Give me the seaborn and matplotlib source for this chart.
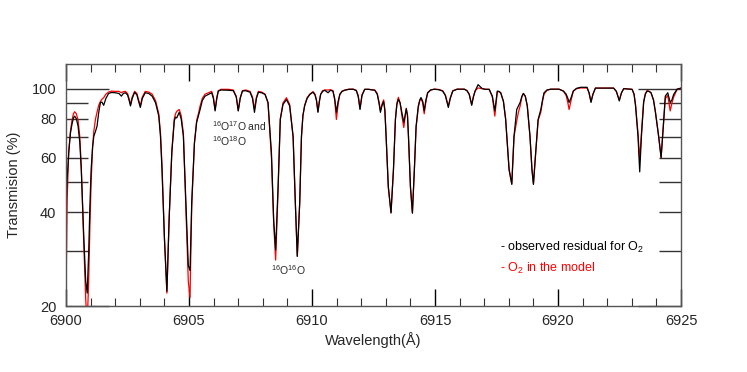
import matplotlib
matplotlib.use('Agg')
import seaborn as sns
import matplotlib.pyplot as plt
from matplotlib.ticker import FixedLocator, FuncFormatter, MultipleLocator
from pandas import DataFrame

# values (wavelength in A, transmission in %)
wavelength = [
    6900.00, 6900.05, 6900.11, 6900.18, 6900.24, 6900.30, 6900.35, 6900.42, 6900.49, 6900.56,
    6900.62, 6900.72, 6900.80, 6900.86, 6900.92, 6900.97, 6901.02, 6901.08, 6901.13, 6901.20,
    6901.26, 6901.33, 6901.40, 6901.46, 6901.53, 6901.62, 6901.73, 6901.85, 6902.00, 6902.15,
    6902.25, 6902.33, 6902.41, 6902.50, 6902.56, 6902.62, 6902.69, 6902.79, 6902.88, 6902.95,
    6903.02, 6903.10, 6903.22, 6903.36, 6903.50, 6903.64, 6903.77, 6903.84, 6903.90, 6904.00,
    6904.10, 6904.19, 6904.30, 6904.40, 6904.45, 6904.50, 6904.60, 6904.68, 6904.77, 6904.87,
    6904.97, 6905.04, 6905.11, 6905.22, 6905.31, 6905.38, 6905.45, 6905.54, 6905.65, 6905.79,
    6905.92, 6905.99, 6906.06, 6906.13, 6906.19, 6906.30, 6906.60, 6906.80, 6906.92, 6907.00,
    6907.08, 6907.17, 6907.30, 6907.48, 6907.58, 6907.66, 6907.74, 6907.82, 6907.95, 6908.09,
    6908.21, 6908.35, 6908.44, 6908.52, 6908.62, 6908.71, 6908.82, 6908.96, 6909.09, 6909.23,
    6909.32, 6909.40, 6909.50, 6909.57, 6909.63, 6909.70, 6909.80, 6909.91, 6910.04, 6910.12,
    6910.18, 6910.24, 6910.30, 6910.35, 6910.43, 6910.52, 6910.65, 6910.75, 6910.85, 6910.92,
    6910.99, 6911.06, 6911.13, 6911.22, 6911.33, 6911.50, 6911.67, 6911.80, 6911.88, 6911.95,
    6912.03, 6912.14, 6912.30, 6912.45, 6912.55, 6912.65, 6912.72, 6912.78, 6912.84, 6912.91,
    6912.96, 6913.01, 6913.10, 6913.21, 6913.31, 6913.39, 6913.45, 6913.51, 6913.58, 6913.65,
    6913.73, 6913.83, 6913.88, 6913.92, 6914.00, 6914.08, 6914.16, 6914.23, 6914.32, 6914.38,
    6914.43, 6914.50, 6914.56, 6914.63, 6914.70, 6914.82, 6914.97, 6915.15, 6915.31, 6915.42,
    6915.48, 6915.54, 6915.62, 6915.72, 6915.90, 6916.19, 6916.30, 6916.39, 6916.49, 6916.56,
    6916.63, 6916.75, 6916.92, 6917.05, 6917.20, 6917.33, 6917.43, 6917.53, 6917.60, 6917.67,
    6917.78, 6917.87, 6918.01, 6918.12, 6918.21, 6918.32, 6918.39, 6918.46, 6918.53, 6918.59,
    6918.67, 6918.75, 6918.86, 6918.94, 6919.00, 6919.09, 6919.19, 6919.30, 6919.37, 6919.43,
    6919.55, 6919.70, 6920.04, 6920.22, 6920.33, 6920.40, 6920.45, 6920.52, 6920.62, 6920.75,
    6920.92, 6921.18, 6921.26, 6921.34, 6921.42, 6921.52, 6922.26, 6922.37, 6922.49, 6922.58,
    6922.67, 6923.01, 6923.09, 6923.15, 6923.25, 6923.32, 6923.39, 6923.48, 6923.55, 6923.62,
    6923.70, 6923.78, 6923.88, 6923.96, 6924.09, 6924.19, 6924.27, 6924.36, 6924.46, 6924.56,
    6924.63, 6924.70, 6924.84, 6925.00,
]
observed = [
    40.0, 52.0, 62.2, 72.0, 76.7, 80.5, 81.6, 80.0, 75.7, 67.0,
    54.9, 33.5, 24.0, 22.0, 29.6, 42.0, 54.9, 65.0, 70.3, 73.0,
    75.7, 84.0, 90.3, 90.5, 88.4, 93.0, 96.5, 97.2, 97.0, 96.5,
    94.6, 96.5, 97.0, 95.5, 92.0, 88.0, 93.0, 97.4, 95.5, 91.0,
    87.0, 93.0, 97.0, 96.5, 94.6, 90.0, 81.6, 70.0, 54.9, 33.0,
    22.3, 37.9, 62.2, 78.7, 81.0, 80.5, 83.9, 80.0, 70.3, 43.3,
    27.0, 26.0, 43.3, 66.9, 77.9, 81.6, 85.7, 91.6, 94.6, 95.8,
    97.0, 93.0, 84.8, 93.0, 98.2, 99.0, 98.8, 98.5, 94.0, 84.8,
    93.0, 98.2, 98.5, 97.4, 93.0, 83.9, 93.0, 97.4, 97.0, 95.8,
    90.3, 62.2, 37.9, 30.3, 48.6, 79.6, 89.0, 92.2, 88.0, 70.3,
    43.3, 28.9, 43.3, 70.3, 82.0, 88.0, 93.0, 95.8, 97.4, 95.5,
    91.6, 83.9, 91.0, 95.8, 98.0, 98.8, 97.0, 98.8, 98.2, 93.0,
    83.9, 91.0, 95.8, 98.0, 98.8, 99.5, 99.6, 98.5, 94.0, 85.7,
    95.0, 99.5, 99.5, 99.0, 98.8, 96.0, 90.0, 83.9, 88.0, 91.0,
    85.0, 70.3, 48.6, 39.8, 54.9, 79.6, 89.0, 92.4, 90.0, 83.9,
    77.9, 86.1, 82.0, 70.3, 48.6, 39.8, 54.9, 75.7, 88.0, 92.0,
    93.6, 91.0, 84.8, 92.0, 97.0, 99.0, 99.6, 99.2, 98.2, 95.0,
    91.0, 87.0, 93.0, 98.2, 99.6, 99.6, 98.5, 95.8, 88.4, 94.0,
    98.2, 103.0, 100.0, 99.5, 99.5, 94.6, 84.8, 98.2, 98.0, 97.0,
    91.0, 79.6, 54.9, 49.2, 70.3, 85.7, 88.0, 90.3, 94.5, 96.5,
    94.5, 88.0, 70.3, 54.9, 49.2, 62.2, 79.6, 85.7, 92.0, 97.0,
    99.0, 99.6, 99.6, 98.2, 96.0, 93.0, 90.3, 93.0, 98.2, 100.2,
    101.0, 101.0, 97.0, 90.3, 96.0, 100.4, 100.4, 98.0, 91.3, 97.0,
    100.0, 99.5, 96.0, 88.0, 70.3, 54.0, 70.3, 90.3, 96.0, 98.2,
    98.0, 97.0, 92.0, 83.9, 70.3, 60.0, 73.9, 94.6, 97.0, 90.3,
    92.0, 95.8, 99.6, 100.4,
]
model = [
    22.0, 45.0, 63.0, 73.0, 79.0, 83.0, 84.3, 83.0, 79.0, 70.0,
    56.0, 32.0, 21.0, 17.5, 24.0, 36.0, 50.0, 65.0, 73.0, 80.0,
    84.0, 88.5, 91.0, 92.5, 93.5, 96.0, 97.5, 98.2, 98.0, 98.0,
    97.0, 97.8, 98.0, 96.5, 93.0, 89.0, 94.0, 98.0, 96.5, 92.0,
    88.0, 94.0, 98.0, 97.5, 96.0, 91.5, 83.0, 72.0, 57.0, 33.0,
    22.0, 38.0, 63.0, 80.0, 83.0, 84.5, 85.7, 82.0, 72.0, 42.0,
    24.0, 21.3, 42.0, 67.0, 79.0, 83.0, 88.0, 93.0, 96.0, 97.0,
    98.0, 94.0, 85.5, 94.0, 98.5, 99.5, 99.5, 99.0, 94.5, 85.0,
    93.5, 98.5, 99.0, 98.0, 94.0, 86.0, 94.0, 98.0, 97.5, 96.0,
    90.0, 60.0, 37.0, 28.1, 47.0, 80.0, 90.0, 93.5, 89.0, 70.0,
    43.0, 28.9, 43.0, 70.0, 82.0, 88.5, 93.5, 96.0, 97.8, 96.0,
    92.0, 84.5, 91.5, 96.0, 98.5, 99.0, 99.0, 99.2, 98.5, 92.0,
    79.6, 89.0, 96.0, 98.2, 99.0, 99.6, 99.6, 98.8, 95.0, 86.5,
    95.5, 99.5, 99.5, 99.2, 99.0, 96.5, 91.0, 85.0, 89.0, 92.0,
    86.0, 71.0, 48.0, 40.0, 55.0, 80.0, 90.0, 93.8, 90.0, 82.0,
    75.0, 86.5, 82.0, 70.0, 48.0, 39.8, 55.0, 75.0, 87.0, 91.5,
    93.0, 90.0, 83.0, 91.0, 97.0, 99.0, 99.6, 99.4, 98.5, 95.5,
    91.5, 88.0, 93.5, 98.5, 99.6, 99.6, 98.5, 96.0, 89.0, 94.5,
    98.5, 100.5, 100.0, 99.5, 99.5, 94.0, 81.6, 97.5, 97.8, 97.0,
    91.0, 80.0, 55.0, 49.5, 70.0, 78.7, 84.0, 88.0, 94.0, 96.5,
    94.5, 88.0, 70.0, 55.0, 49.5, 62.0, 79.0, 84.0, 91.0, 96.0,
    98.8, 99.6, 99.6, 98.2, 95.0, 90.0, 85.7, 91.0, 98.2, 100.0,
    100.5, 100.5, 97.0, 91.0, 96.0, 100.4, 100.4, 98.0, 92.0, 97.0,
    100.0, 99.5, 96.0, 89.0, 72.0, 59.0, 72.0, 91.0, 96.5, 98.5,
    98.0, 97.0, 92.0, 84.0, 70.0, 60.0, 74.0, 93.0, 95.0, 84.8,
    90.0, 94.0, 99.5, 100.4,
]
ytick_values = [20, 40, 60, 80, 100]

data = DataFrame({'wavelength': wavelength, 'observed': observed, 'model': model})

sns.set_style("white")
plt.rcParams['font.family'] = ['Liberation Sans', 'DejaVu Sans']
plt.rcParams['mathtext.fontset'] = 'custom'
plt.rcParams['mathtext.rm'] = 'Liberation Sans'
plt.rcParams['mathtext.it'] = 'Liberation Sans'
plt.rcParams['mathtext.default'] = 'regular'

fig = plt.figure(figsize=(7.47, 3.72), dpi=100)
ax = fig.add_axes([0.0884, 0.1774, 0.8233, 0.6505])

# model first, observed on top
sns.lineplot(x='wavelength', y='model', data=data, color='#ff0000',
             lw=0.9, estimator=None, sort=False, ax=ax)
sns.lineplot(x='wavelength', y='observed', data=data, color='black',
             lw=0.9, estimator=None, sort=False, ax=ax)

ax.set_yscale('log')
ax.set_xlim(6900, 6925)
ax.set_ylim(20, 120)

# x ticks: major every 5, minor every 1, inward on both sides
ax.xaxis.set_major_locator(MultipleLocator(5))
ax.xaxis.set_minor_locator(MultipleLocator(1))
ax.xaxis.set_major_formatter(FuncFormatter(lambda v, p: '%d' % v))

# y ticks: long ones at 20 and 100, short ones in between
ax.yaxis.set_major_locator(FixedLocator([20, 100]))
ax.yaxis.set_minor_locator(FixedLocator([30, 40, 50, 60, 70, 80, 90]))
ax.yaxis.set_major_formatter(FuncFormatter(lambda v, p: '%d' % v))
ax.yaxis.set_minor_formatter(
    FuncFormatter(lambda v, p: '%d' % v if int(round(v)) in ytick_values else ''))

ax.tick_params(axis='x', which='major', direction='in', length=12, width=1,
               top=True, bottom=True, labelsize=10.5, pad=6, color='black')
ax.tick_params(axis='x', which='minor', direction='in', length=6, width=0.8,
               top=True, bottom=True, color='#333333')
ax.tick_params(axis='y', which='major', direction='in', length=31, width=1,
               left=True, right=True, labelsize=10.5, pad=7, color='#333333')
ax.tick_params(axis='y', which='minor', direction='in', length=16, width=1,
               left=True, right=True, labelsize=10.5, pad=7, color='#333333')

for side in ax.spines.values():
    side.set_color('#555555')
    side.set_linewidth(1.0)

ax.set_xlabel('Wavelength(Å)', fontsize=10.5, labelpad=3)
ax.set_ylabel('Transmision (%)', fontsize=10.5, labelpad=8)

# labels on the lines
ax.text(0.238, 0.745, r'$^{16}$O$^{17}$O and', transform=ax.transAxes,
        fontsize=7.5, va='center', ha='left')
ax.text(0.238, 0.683, r'$^{16}$O$^{18}$O', transform=ax.transAxes,
        fontsize=7.5, va='center', ha='left')
ax.text(0.333, 0.150, r'$^{16}$O$^{16}$O', transform=ax.transAxes,
        fontsize=7.5, va='center', ha='left')

# hand-written legend
ax.text(0.705, 0.240, r'- observed residual for O$_2$', transform=ax.transAxes,
        fontsize=9, va='center', ha='left', color='black')
ax.text(0.705, 0.155, r'- O$_2$ in the model', transform=ax.transAxes,
        fontsize=9, va='center', ha='left', color='#ff0000')

plt.savefig('out.png', dpi=100)
